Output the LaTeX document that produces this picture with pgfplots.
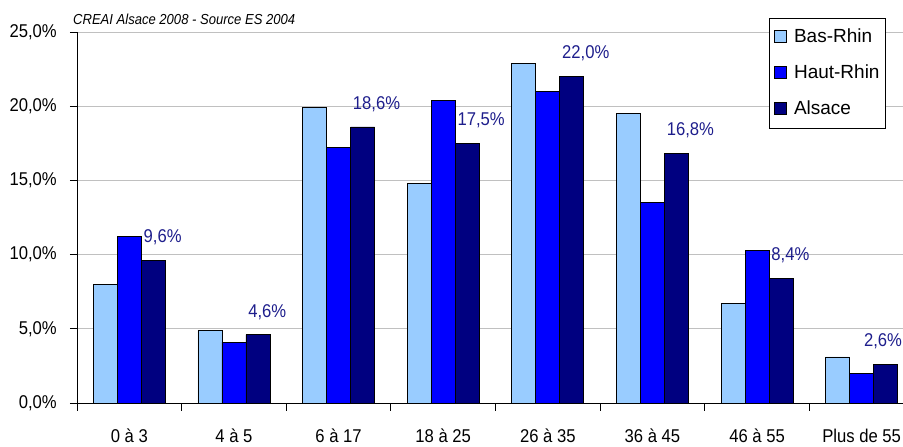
\documentclass[border=0pt]{standalone}
\usepackage{fontspec}
\setmainfont{Liberation Sans}[FakeStretch=0.9]
\newfontfamily\legfam{Liberation Sans}
\usepackage{pgfplots}
\pgfplotsset{compat=1.18}

\definecolor{basrhin}{HTML}{99CCFF}
\definecolor{hautrhin}{HTML}{0000FF}
\definecolor{alsace}{HTML}{000080}
\definecolor{lblblue}{RGB}{30,30,140}
\definecolor{gridgray}{RGB}{192,192,192}

\newcommand\tickfont{\fontsize{18.5}{20}\selectfont}
\newcommand\legfont{\legfam\fontsize{19}{21}\selectfont}

\begin{document}
\begin{tikzpicture}
\useasboundingbox (0,0) rectangle (903pt,447pt);
\clip (0,0) rectangle (903pt,447pt);
\begin{axis}[
    at={(77pt,44pt)}, anchor=south west,
    scale only axis, width=837pt, height=371pt,
    ybar=0pt, bar width=24pt,
    xmin=-0.5, xmax=7.5, ymin=0, ymax=25,
    axis lines*=left,
    axis line style={-, black, line width=0.8pt},
    xtick={0,...,7},
    xticklabels={0 à 3, 4 à 5, 6 à 17, 18 à 25, 26 à 35, 36 à 45, 46 à 55, Plus de 55},
    major x tick style={draw=none},
    minor xtick={-0.5,0.5,...,7.5},
    minor tick length=8pt,
    ytick={0,5,...,25},
    yticklabels={{0,0\%},{5,0\%},{10,0\%},{15,0\%},{20,0\%},{25,0\%}},
    tick align=outside,
    major tick length=7pt,
    tick style={black, line width=0.8pt},
    ymajorgrids,
    grid style={gridgray, line width=0.8pt},
    ticklabel style={font=\tickfont},
    xticklabel style={anchor=base, yshift=-33pt},
    yticklabel style={anchor=east, inner sep=0pt, xshift=-13pt},
    legend cell align=left,
    legend image code/.code={\draw[#1, draw=black, line width=0.6pt] (0pt,-5pt) rectangle (12pt,7pt);},
    legend style={at={(0.8268,1.0377)}, anchor=north west, draw=black, line width=0.8pt,
        font=\legfont, inner xsep=5pt, inner ysep=10pt, row sep=18pt, column sep=6pt,
        nodes={inner sep=1pt, text height=13pt, text depth=3pt}},
    every axis plot/.append style={draw=black, line width=0.8pt},
]
% Bas-Rhin
\addplot[fill=basrhin] coordinates {
    (0,8.0) (1,4.9) (2,19.9) (3,14.8) (4,22.9) (5,19.5) (6,6.7) (7,3.1)
};
% Haut-Rhin
\addplot[fill=hautrhin] coordinates {
    (0,11.2) (1,4.1) (2,17.2) (3,20.4) (4,21.0) (5,13.5) (6,10.3) (7,2.0)
};
% Alsace
\addplot[fill=alsace, point meta=explicit symbolic, nodes near coords,
    every node near coord/.append style={anchor=west, inner sep=0pt, xshift=-10pt, yshift=23pt,
        font=\tickfont, text=lblblue}] coordinates {
    (0,9.6) [9,6\%] (1,4.6) [4,6\%] (2,18.6) [18,6\%] (3,17.5) [17,5\%]
    (4,22.0) [22,0\%] (5,16.8) [16,8\%] (6,8.4) [8,4\%] (7,2.6) [\hspace*{-12pt}2,6\%]
};
\legend{Bas-Rhin, Haut-Rhin, Alsace}
\end{axis}
\node[anchor=base west, inner sep=0pt, font=\fontsize{14.5}{16}\selectfont\itshape]
    at (73pt,422pt) {CREAI Alsace 2008 - Source ES 2004};
\end{tikzpicture}
\end{document}
